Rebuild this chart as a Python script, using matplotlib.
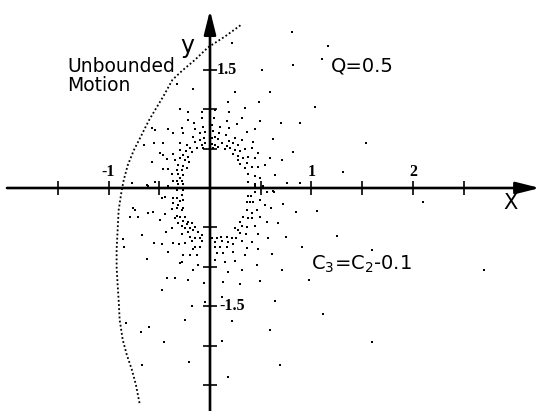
import numpy as np
import matplotlib.pyplot as plt

# surface of section points, grouped by region (x, y)
pts_upper_left = np.array([
    (-0.30, 1.00), (-0.22, 0.96), (-0.08, 0.96), (-0.22, 0.86), (-0.08, 0.89),
    (-0.57, 0.76), (-0.54, 0.73), (-0.41, 0.75), (-0.28, 0.76), (-0.16, 0.82),
    (-0.15, 0.75), (-0.07, 0.77), (-0.65, 0.54), (-0.46, 0.57), (-0.36, 0.70),
    (-0.27, 0.70), (-0.17, 0.65), (-0.10, 0.70), (-0.05, 0.71), (-0.23, 0.54),
    (-0.30, 0.57), (-0.15, 0.58), (-0.10, 0.61), (-0.06, 0.63), (-0.05, 0.57),
    (-0.08, 0.54), (-0.20, 0.51), (-0.13, 0.51), (-0.07, 0.51), (-0.30, 0.48),
    (-0.24, 0.47), (-0.18, 0.46), (-0.49, 0.44), (-0.36, 0.43), (-0.42, 0.37),
    (-0.27, 0.42), (-0.22, 0.39), (-0.30, 0.38), (-0.25, 0.35), (-0.21, 0.33),
    (-0.34, 0.35), (-0.57, 0.33), (-0.32, 0.29), (-0.27, 0.28), (-0.33, 0.23),
    (-0.28, 0.23), (-0.23, 0.25), (-0.46, 0.24), (-0.41, 0.24), (-0.37, 0.18),
    (-0.32, 0.18), (-0.27, 0.16), (-0.30, 0.13), (-0.36, 0.09), (-0.33, 0.09),
    (-0.28, 0.09), (-0.54, 0.08), (-0.32, 0.05), (-0.62, 0.04), (-0.27, 0.05),
    (-0.55, 0.57), (-0.46, 0.42), (-0.77, 0.06), (-0.33, 1.32), (-0.17, 1.25),
])

pts_upper_right = np.array([
    (0.18, 1.09), (0.48, 1.09), (0.34, 1.01), (0.05, 0.99), (0.19, 0.96),
    (0.04, 0.89), (0.32, 0.89), (0.49, 0.85), (0.70, 0.82), (0.17, 0.85),
    (0.27, 0.81), (0.10, 0.77), (0.02, 0.80), (0.19, 0.76), (0.44, 0.75),
    (0.03, 0.72), (0.09, 0.70), (0.36, 0.71), (0.16, 0.67), (0.05, 0.65),
    (0.02, 0.63), (0.25, 0.63), (0.08, 0.62), (0.19, 0.59), (0.32, 0.61),
    (0.42, 0.58), (0.62, 0.62), (0.12, 0.57), (0.23, 0.57), (0.02, 0.56),
    (0.05, 0.54), (0.17, 0.53), (0.28, 0.54), (0.08, 0.52), (0.20, 0.51),
    (0.03, 0.51), (0.34, 0.49), (0.41, 0.51), (0.82, 0.46), (0.25, 0.48),
    (0.15, 0.49), (0.30, 0.47), (0.23, 0.43), (0.28, 0.41), (0.37, 0.39),
    (0.47, 0.44), (0.33, 0.38), (0.44, 0.38), (0.59, 0.38), (0.28, 0.35),
    (0.71, 0.35), (0.30, 0.30), (0.36, 0.32), (0.54, 0.29), (0.34, 0.25),
    (0.41, 0.27), (0.47, 0.27), (0.37, 0.18), (0.44, 0.15), (0.64, 0.16),
    (0.49, 0.13), (0.37, 0.08), (0.44, 0.05), (0.52, 0.03), (0.76, 0.06),
    (0.25, 1.22), (0.59, 1.22), (0.89, 0.82), (0.89, 0.06),
])

pts_lower_left = np.array([
    (-0.61, 0.03), (-0.41, 0.03), (-0.33, -0.03), (-0.29, 0.00), (-0.27, -0.03),
    (-0.47, -0.13), (-0.44, -0.11), (-0.36, -0.13), (-0.33, -0.13), (-0.28, -0.09),
    (-0.30, -0.16), (-0.27, -0.15), (-0.36, -0.19), (-0.32, -0.22), (-0.27, -0.25),
    (-0.33, -0.25), (-0.28, -0.28), (-0.37, -0.27), (-0.56, -0.30), (-0.61, -0.32),
    (-0.44, -0.33), (-0.33, -0.35), (-0.30, -0.37), (-0.25, -0.37), (-0.49, -0.41),
    (-0.34, -0.38), (-0.27, -0.42), (-0.22, -0.43), (-0.32, -0.44), (-0.28, -0.48),
    (-0.23, -0.46), (-0.18, -0.44), (-0.37, -0.51), (-0.25, -0.51), (-0.20, -0.51),
    (-0.15, -0.49), (-0.43, -0.56), (-0.22, -0.56), (-0.17, -0.53), (-0.12, -0.56),
    (-0.28, -0.58), (-0.08, -0.59), (-0.20, -0.62), (-0.15, -0.63), (-0.10, -0.63),
    (-0.67, -0.59), (-0.18, -0.67), (-0.08, -0.67), (-0.55, -0.70), (-0.47, -0.71),
    (-0.36, -0.70), (-0.31, -0.71), (-0.25, -0.70), (-0.15, -0.75), (-0.10, -0.75),
    (-0.41, -0.81), (-0.17, -0.77), (-0.27, -0.85), (-0.20, -0.85), (-0.13, -0.85),
    (-0.62, -0.90), (-0.28, -0.94), (-0.12, -0.97), (-0.17, -1.04), (-0.42, -1.14),
    (-0.34, -1.14), (-0.76, -0.25), (-0.74, -0.28), (-0.79, -0.37), (-0.71, -0.37),
    (-0.30, -0.95),
])

pts_lower_right = np.array([
    (0.44, 0.03), (0.56, -0.05), (0.63, -0.05), (0.44, -0.05), (0.37, -0.10),
    (0.40, -0.10), (0.49, -0.15), (0.36, -0.18), (0.39, -0.18), (0.42, -0.18),
    (0.54, -0.22), (0.72, -0.20), (0.36, -0.28), (0.46, -0.28), (0.60, -0.25),
    (0.41, -0.32), (0.33, -0.37), (0.37, -0.38), (0.41, -0.38), (0.49, -0.37),
    (0.30, -0.43), (0.56, -0.43), (0.67, -0.44), (0.32, -0.48), (0.36, -0.49),
    (0.44, -0.48), (0.25, -0.51), (0.28, -0.53), (0.35, -0.58), (0.47, -0.58),
    (0.30, -0.57), (0.02, -0.63), (0.07, -0.63), (0.11, -0.62), (0.17, -0.62),
    (0.22, -0.63), (0.26, -0.63), (0.05, -0.68), (0.12, -0.67), (0.18, -0.68),
    (0.32, -0.67), (0.41, -0.68), (0.57, -0.63), (0.75, -0.62), (0.05, -0.75),
    (0.10, -0.75), (0.17, -0.75), (0.23, -0.71), (0.36, -0.76), (0.47, -0.77),
    (0.07, -0.82), (0.13, -0.82), (0.23, -0.81), (0.34, -0.85), (0.61, -0.84),
    (0.05, -0.91), (0.15, -0.94), (0.25, -0.92), (0.46, -0.97), (0.18, -1.06),
    (0.32, -1.04), (0.71, -1.04), (0.62, -0.04), (0.91, -0.75),
])

pts_outer = np.array([
    (0.22, 1.84), (0.81, 1.97), (1.16, 1.80), (1.10, 1.63), (0.82, 1.56),
    (0.51, 1.49), (1.03, 1.03), (1.54, 0.57), (1.31, 0.20), (2.10, -0.18),
    (0.85, -0.30), (1.05, -0.29), (1.25, -0.61), (1.60, -0.78), (0.98, -1.16),
    (2.70, -1.04), (1.11, -1.59), (1.60, -1.95), (0.69, -2.24), (-0.86, -0.65),
    (-0.85, -0.75), (-0.47, -1.29), (-0.22, -1.16), (-0.18, -1.49), (-0.25, -1.67),
    (-0.68, -1.82), (-0.60, -1.76), (-0.45, -1.95), (-0.21, -2.20), (-0.67, -2.24),
    (-0.83, -1.71), (-0.06, -1.20), (0.13, -1.19), (0.30, -1.22), (0.49, -1.18),
    (0.12, -1.38), (-0.05, -1.44), (0.64, -1.43), (0.22, -1.68), (0.59, -1.80),
    (0.12, -1.94), (0.18, -2.39),
])

# boundary of bounded motion
bound_x = [0.30, 0.15, -0.02, -0.15, -0.27, -0.37, -0.46, -0.54, -0.60, -0.64,
           -0.69, -0.75, -0.81, -0.85, -0.87, -0.90, -0.91, -0.92, -0.92, -0.91,
           -0.90, -0.89, -0.86, -0.82, -0.77, -0.73, -0.69]
bound_y = [2.06, 1.92, 1.78, 1.62, 1.49, 1.37, 1.16, 0.99, 0.86, 0.76,
           0.63, 0.48, 0.29, 0.10, -0.03, -0.28, -0.53, -0.78, -1.00, -1.23,
           -1.42, -1.67, -1.92, -2.11, -2.30, -2.49, -2.75]

xticks = [-1.5, -1, -0.5, 0.5, 1, 1.5, 2, 2.5]
yticks = [1.5, 1, 0.5, -0.5, -1, -1.5, -2, -2.5]

fig = plt.figure(figsize=(5.42, 4.11), dpi=100)
ax = fig.add_axes([0, 0, 1, 1])
ax.set_xlim(-2.069, 3.271)
ax.set_ylim(-2.823, 2.380)
ax.axis('off')

# axes with arrows
arrow = dict(arrowstyle='-|>,head_length=0.8,head_width=0.2', lw=1.9,
             color='black', mutation_scale=18, shrinkA=0, shrinkB=0)
ax.annotate('', xy=(3.25, 0), xytext=(-2.0, 0), arrowprops=arrow)
ax.annotate('', xy=(0, 2.25), xytext=(0, -2.823), arrowprops=arrow)

ax.vlines(xticks, -0.089, 0.089, color='black', lw=1.2)
ax.hlines(yticks, -0.069, 0.069, color='black', lw=1.2)

tick_font = dict(family='Liberation Serif', weight='bold', fontsize=11.5)
for v, s in [(-1, '-1'), (1, '1'), (2, '2')]:
    ax.text(v, 0.2, s, ha='center', va='center', **tick_font)
ax.text(0.07, 1.5, '1.5', ha='left', va='center', **tick_font)
ax.text(0.09, -1.5, '-1.5', ha='left', va='center', **tick_font)

ax.text(-0.22, 1.80, 'y', ha='center', va='center', fontsize=17)
ax.text(2.96, -0.19, 'X', ha='center', va='center', fontsize=15)

# section points
for pts in [pts_upper_left, pts_upper_right, pts_lower_left, pts_lower_right, pts_outer]:
    ax.scatter(pts[:, 0], pts[:, 1], s=3.5, marker='s', color='black', linewidths=0)

ax.plot(bound_x, bound_y, color='black', lw=1.3, ls=(0, (1.0, 1.3)),
        dash_capstyle='butt')

ax.text(-1.41, 1.47, 'Unbounded', ha='left', va='baseline', fontsize=13.5)
ax.text(-1.41, 1.23, 'Motion', ha='left', va='baseline', fontsize=13.5)
ax.text(1.19, 1.48, 'Q=0.5', ha='left', va='baseline', fontsize=14)
ax.text(1.00, -1.04, 'C$_3$=C$_2$-0.1', ha='left', va='baseline', fontsize=14)

fig.savefig('out.png', dpi=100)
